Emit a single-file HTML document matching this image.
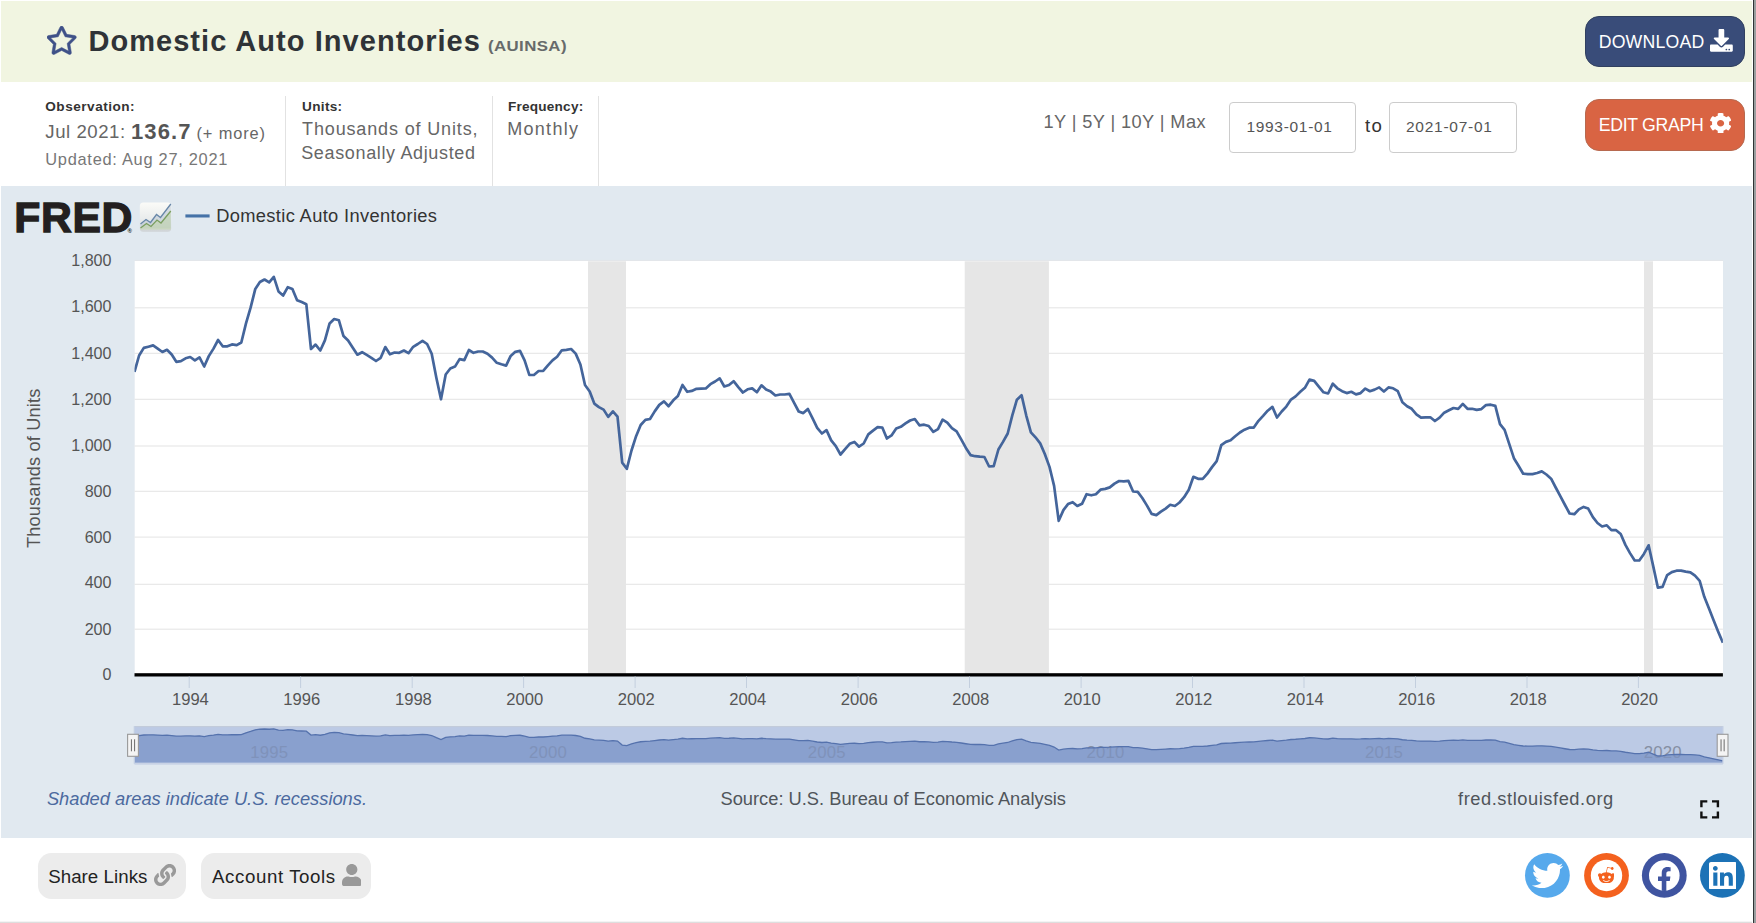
<!DOCTYPE html>
<html lang="en">
<head>
<meta charset="utf-8">
<title>Domestic Auto Inventories (AUINSA) | FRED | St. Louis Fed</title>
<style>
*{box-sizing:border-box;margin:0;padding:0}
html,body{width:1756px;height:923px;overflow:hidden;background:#fff}
body{position:relative;font-family:"Liberation Sans",sans-serif;color:#333}
.t{position:absolute;white-space:nowrap;line-height:1;font-weight:400}
.ic{position:absolute;display:block}
#hdr{position:absolute;left:1px;top:1px;width:1751px;height:81px;background:#f1f5e1}
#chartbg{position:absolute;left:1px;top:186px;width:1751px;height:652px;background:#e1e9f0}
#rborder{position:absolute;left:1753px;top:0;width:3px;height:923px;background:#9b9fa0;border-left:1px solid #2f3435}
#bborder{position:absolute;left:0;top:921px;width:1752px;height:2px;background:linear-gradient(#f4f4f4 0,#f4f4f4 50%,#dedede 50%,#dedede 100%)}
.vdiv{position:absolute;top:96px;width:1px;height:90px;background:#e2e2e2}
.btn{position:absolute;border-radius:14px}
.inp{position:absolute;top:102px;height:51px;width:127px;border:1px solid #ccc;border-radius:4px;background:#fff}
.gbtn{position:absolute;top:853px;height:46px;border-radius:13.5px;background:#ececec}
#chart{position:absolute;left:0;top:0;width:1756px;height:923px}
</style>
</head>
<body>
<header id="series-title">
<div id="hdr"></div>
<svg class="ic" style="left:47.40px;top:26.00px;width:29.30px;height:28.50px" viewBox="20.5 -0.0 535.0 512.1" preserveAspectRatio="none"><path fill="#3f5188" stroke="#3f5188" stroke-width="9" d="M528.1 171.5L382 150.2 316.700 17.800c-11.700-23.600-45.600-23.900-57.400 0L194 150.200 47.900 171.500c-26.200 3.800-36.700 36.100-17.700 54.600l105.700 103-25 145.500c-4.500 26.300 23.200 46 46.400 33.700L288 439.600l130.700 68.700c23.200 12.200 50.900-7.400 46.400-33.700l-25-145.500 105.700-103c19-18.500 8.500-50.800-17.700-54.600zM388.600 312.300l23.700 138.400L288 385.400l-124.300 65.300 23.700-138.400-100.600-98 139-20.200 62.200-126 62.200 126 139 20.200-100.600 98z"/></svg>
<h1 class="t" style="left:88.40px;top:27.20px;font-size:29.0px;letter-spacing:1.05px;font-weight:700;color:#2f3337;">Domestic Auto Inventories</h1>
<span class="t" style="left:487.80px;top:39.39px;font-size:14.9px;letter-spacing:0.35px;font-weight:700;color:#676a6a;transform-origin:0 50%;transform:scaleX(1.13);">(AUINSA)</span>
<div class="download-button">
<div class="btn" style="left:1585px;top:16px;width:160px;height:51px;background:#394c79;border:1px solid #31405f"></div>
<span class="t" style="left:1598.70px;top:34.32px;font-size:17.7px;letter-spacing:0.2px;color:#fff;">DOWNLOAD</span>
<svg class="ic" style="left:1709.80px;top:29.30px;width:22.80px;height:22.70px" viewBox="0.0 0.0 512.0 512.0" preserveAspectRatio="none"><path fill="#fff"  d="M216 0h80c13.3 0 24 10.7 24 24v168h87.7c17.8 0 26.7 21.5 14.1 34.1L269.7 378.3c-7.5 7.5-19.8 7.5-27.3 0L90.1 226.1c-12.6-12.6-3.7-34.1 14.1-34.1H192V24c0-13.3 10.7-24 24-24zm296 376v112c0 13.3-10.7 24-24 24H24c-13.3 0-24-10.7-24-24V376c0-13.3 10.7-24 24-24h146.7l49 49c20.1 20.1 52.5 20.1 72.6 0l49-49H488c13.3 0 24 10.7 24 24zm-124 88c0-11-9-20-20-20s-20 9-20 20 9 20 20 20 20-9 20-20zm64 0c0-11-9-20-20-20s-20 9-20 20 9 20 20 20 20-9 20-20z"/></svg>
</div>
</header>
<section id="series-meta">
<div class="meta-col">
<p class="t" style="left:45.30px;top:100.19px;font-size:13.6px;letter-spacing:0.5px;font-weight:700;">Observation:</p>
<span class="t" style="left:45.30px;top:123.46px;font-size:18.6px;letter-spacing:0.55px;color:#666;">Jul 2021:</span>
<span class="t" style="left:130.90px;top:120.58px;font-size:22.0px;letter-spacing:1.15px;font-weight:700;color:#555;">136.7</span>
<span class="t" style="left:196.40px;top:125.32px;font-size:16.4px;letter-spacing:0.9px;color:#666;">(+ more)</span>
<p class="t" style="left:45.30px;top:150.92px;font-size:16.4px;letter-spacing:0.72px;color:#777;">Updated: Aug 27, 2021</p>
</div>
<div class="meta-col"><div class="vdiv" style="left:285px"></div>
<p class="t" style="left:302.10px;top:100.19px;font-size:13.6px;letter-spacing:0.3px;font-weight:700;">Units:</p>
<span class="t" style="left:302.10px;top:119.56px;font-size:18.0px;letter-spacing:0.85px;color:#666;">Thousands of Units,</span>
<span class="t" style="left:301.20px;top:144.26px;font-size:18.0px;letter-spacing:0.65px;color:#666;">Seasonally Adjusted</span>
</div>
<div class="meta-col"><div class="vdiv" style="left:492px"></div>
<p class="t" style="left:508.10px;top:100.19px;font-size:13.6px;letter-spacing:0.2px;font-weight:700;">Frequency:</p>
<span class="t" style="left:507.20px;top:119.56px;font-size:18.0px;letter-spacing:1.3px;color:#666;">Monthly</span>
<div class="vdiv" style="left:598px"></div></div>
<div class="range-controls">
<span class="t" style="left:1043.60px;top:112.99px;font-size:18.2px;letter-spacing:0.4px;color:#666;">1Y | 5Y | 10Y | Max</span>
<div class="inp" style="left:1229px"></div>
<span class="t" style="left:1246.40px;top:119.18px;font-size:15.5px;letter-spacing:0.7px;color:#555;">1993-01-01</span>
<span class="t" style="left:1365.10px;top:116.96px;font-size:18.6px;letter-spacing:1.2px;">to</span>
<div class="inp" style="left:1389px;width:128px"></div>
<span class="t" style="left:1406.00px;top:119.18px;font-size:15.5px;letter-spacing:0.74px;color:#555;">2021-07-01</span>
</div>
<div class="edit-button">
<div class="btn" style="left:1585px;top:99px;width:160px;height:52px;background:#d96443;border:1px solid #b7694f"></div>
<span class="t" style="left:1598.70px;top:116.62px;font-size:17.7px;letter-spacing:-0.3px;color:#fff;">EDIT GRAPH</span>
<svg class="ic" style="left:1710.30px;top:112.70px;width:21.20px;height:20.60px" viewBox="18.6 8.1 474.8 496.0" preserveAspectRatio="none"><path fill="#fff"  d="M487.4 315.7l-42.600-24.600c4.300-23.200 4.300-47 0-70.200l42.600-24.600c4.900-2.800 7.100-8.600 5.500-14-11.100-35.600-30-67.800-54.700-94.600-3.800-4.100-10-5.100-14.800-2.300L380.800 110c-17.900-15.400-38.500-27.300-60.800-35.100V25.800c0-5.600-3.900-10.500-9.400-11.700-36.700-8.200-74.300-7.800-109.200 0-5.500 1.200-9.400 6.100-9.400 11.700V75c-22.200 7.900-42.800 19.800-60.800 35.100L88.700 85.500c-4.900-2.800-11-1.900-14.800 2.300-24.700 26.700-43.600 58.900-54.700 94.600-1.700 5.400.6 11.200 5.500 14L67.300 221c-4.300 23.200-4.300 47 0 70.200l-42.600 24.600c-4.900 2.800-7.100 8.600-5.500 14 11.100 35.600 30 67.800 54.700 94.600 3.800 4.100 10 5.100 14.800 2.300l42.600-24.600c17.900 15.400 38.500 27.300 60.800 35.100v49.200c0 5.600 3.900 10.500 9.400 11.700 36.700 8.200 74.300 7.800 109.200 0 5.500-1.200 9.400-6.100 9.400-11.700v-49.200c22.200-7.900 42.800-19.800 60.800-35.100l42.600 24.600c4.900 2.800 11 1.900 14.800-2.300 24.700-26.700 43.600-58.900 54.700-94.600 1.500-5.500-.7-11.300-5.600-14.100zM256 336c-44.100 0-80-35.900-80-80s35.900-80 80-80 80 35.900 80 80-35.900 80-80 80z"/></svg>
</div>
</section>
<section id="graph">
<div id="chartbg"></div>
<svg id="chart" viewBox="0 0 1756 923"><rect x="134.7" y="259.9" width="1588.4" height="1.2" fill="#e3e6ea"/>
<rect x="134.7" y="261.0" width="1588.3" height="414.0" fill="#fff"/>
<rect x="134.5" y="307.25" width="1588.4" height="1.1" fill="#e6e6e6"/>
<rect x="134.5" y="352.75" width="1588.4" height="1.1" fill="#e6e6e6"/>
<rect x="134.5" y="398.75" width="1588.4" height="1.1" fill="#e6e6e6"/>
<rect x="134.5" y="445.45" width="1588.4" height="1.1" fill="#e6e6e6"/>
<rect x="134.5" y="490.75" width="1588.4" height="1.1" fill="#e6e6e6"/>
<rect x="134.5" y="536.55" width="1588.4" height="1.1" fill="#e6e6e6"/>
<rect x="134.5" y="583.75" width="1588.4" height="1.1" fill="#e6e6e6"/>
<rect x="134.5" y="628.65" width="1588.4" height="1.1" fill="#e6e6e6"/>
<rect x="588.0" y="261.3" width="38.0" height="413.7" fill="#e6e6e6"/>
<rect x="964.7" y="261.3" width="84.2" height="413.7" fill="#e6e6e6"/>
<rect x="1644.0" y="261.3" width="9.0" height="413.7" fill="#e6e6e6"/>
<clipPath id="cp"><rect x="134.5" y="261.3" width="1588.4" height="413.7"/></clipPath>
<polyline clip-path="url(#cp)" points="134.5,371.8 139.1,355.5 143.8,347.9 148.4,346.7 153.1,345.4 157.7,348.7 162.4,352.0 167.0,349.8 171.7,354.5 176.3,361.8 180.9,361.1 185.6,358.3 190.2,357.0 194.9,360.3 199.5,357.4 204.2,366.5 208.8,356.1 213.5,348.6 218.1,340.0 222.7,346.3 227.4,346.3 232.0,344.4 236.7,345.1 241.3,342.5 246.0,323.4 250.6,307.7 255.3,288.9 259.9,282.0 264.5,279.5 269.2,282.3 273.8,276.9 278.5,291.4 283.1,295.5 287.8,287.2 292.4,288.9 297.1,300.2 301.7,302.1 306.3,304.2 311.0,349.0 315.6,344.6 320.3,350.5 324.9,340.4 329.6,323.4 334.2,319.0 338.9,320.3 343.5,336.1 348.1,340.5 352.8,347.8 357.4,354.7 362.1,352.2 366.7,354.9 371.4,357.8 376.0,361.0 380.7,357.8 385.3,347.1 389.9,354.3 394.6,352.5 399.2,352.8 403.9,350.5 408.5,353.2 413.2,346.8 417.8,344.0 422.5,340.8 427.1,344.0 431.7,353.8 436.4,377.9 441.0,399.3 445.7,374.5 450.3,368.5 455.0,366.6 459.6,359.1 464.3,360.1 468.9,350.0 473.5,352.8 478.2,351.5 482.8,351.5 487.5,353.8 492.1,357.6 496.8,362.8 501.4,364.3 506.1,365.6 510.7,355.9 515.3,351.8 520.0,350.9 524.6,360.3 529.3,374.8 533.9,375.0 538.6,371.0 543.2,370.8 547.9,365.4 552.5,360.4 557.1,356.8 561.8,350.3 566.4,349.8 571.1,349.0 575.7,353.6 580.4,364.5 585.0,385.0 589.7,391.5 594.3,403.6 598.9,407.1 603.6,409.6 608.2,416.9 612.9,411.4 617.5,416.6 622.2,462.6 626.8,468.8 631.5,450.5 636.1,436.2 640.7,425.0 645.4,419.9 650.0,419.0 654.7,411.4 659.3,404.9 664.0,401.4 668.6,406.2 673.3,400.3 677.9,396.1 682.5,385.0 687.2,391.8 691.8,390.9 696.5,388.8 701.1,388.6 705.8,388.4 710.4,384.2 715.1,381.5 719.7,378.3 724.3,386.5 729.0,385.0 733.6,381.2 738.3,387.1 742.9,392.5 747.6,389.3 752.2,388.4 756.9,392.2 761.5,385.3 766.1,389.6 770.8,391.6 775.4,395.5 780.1,394.5 784.7,394.5 789.4,393.9 794.0,402.7 798.7,411.5 803.3,413.1 807.9,409.0 812.6,418.4 817.2,427.8 821.9,433.5 826.5,430.1 831.2,440.4 835.8,446.1 840.5,454.5 845.1,449.2 849.7,443.8 854.4,441.9 859.0,446.7 863.7,443.5 868.3,434.4 873.0,430.6 877.6,427.2 882.3,427.5 886.9,438.5 891.5,435.4 896.2,428.5 900.8,426.8 905.5,423.4 910.1,420.5 914.8,419.0 919.4,425.3 924.1,424.7 928.7,426.0 933.3,431.9 938.0,429.1 942.6,419.7 947.3,422.6 951.9,428.1 956.6,431.4 961.2,439.4 965.9,447.9 970.5,455.1 975.1,456.2 979.8,456.7 984.4,457.0 989.1,466.5 993.7,466.1 998.4,449.5 1003.0,441.9 1007.7,433.5 1012.3,415.3 1016.9,399.7 1021.6,395.3 1026.2,415.3 1030.9,432.3 1035.5,437.3 1040.2,443.4 1044.8,454.0 1049.5,466.9 1054.1,485.9 1058.7,520.8 1063.4,510.1 1068.0,504.1 1072.7,502.2 1077.3,506.0 1082.0,503.8 1086.6,494.2 1091.3,495.3 1095.9,494.2 1100.5,489.7 1105.2,488.9 1109.8,487.4 1114.5,483.6 1119.1,481.0 1123.8,481.3 1128.4,480.9 1133.1,491.5 1137.7,491.9 1142.3,498.0 1147.0,505.6 1151.6,513.9 1156.3,515.1 1160.9,511.6 1165.6,508.6 1170.2,504.8 1174.9,506.0 1179.5,502.5 1184.1,497.2 1188.8,489.7 1193.4,476.8 1198.1,478.8 1202.7,478.9 1207.4,473.6 1212.0,467.1 1216.7,461.1 1221.3,445.1 1225.9,441.9 1230.6,440.3 1235.2,436.2 1239.9,432.5 1244.5,429.7 1249.2,427.7 1253.8,427.6 1258.5,420.8 1263.1,415.9 1267.7,410.7 1272.4,406.9 1277.0,417.5 1281.7,411.5 1286.3,406.6 1291.0,399.6 1295.6,396.4 1300.3,391.8 1304.9,387.8 1309.5,379.6 1314.2,380.9 1318.8,386.6 1323.5,392.3 1328.1,393.5 1332.8,383.7 1337.4,388.3 1342.1,391.2 1346.7,393.1 1351.3,391.8 1356.0,394.4 1360.6,393.1 1365.3,388.6 1369.9,391.2 1374.6,389.6 1379.2,387.4 1383.9,391.5 1388.5,387.4 1393.1,388.3 1397.8,391.2 1402.4,402.3 1407.1,406.2 1411.7,408.8 1416.4,414.3 1421.0,417.6 1425.7,417.3 1430.3,417.3 1434.9,421.0 1439.6,417.7 1444.2,412.7 1448.9,410.3 1453.5,408.0 1458.2,408.8 1462.8,403.9 1467.5,408.8 1472.1,408.8 1476.7,409.9 1481.4,409.1 1486.0,405.1 1490.7,404.7 1495.3,405.9 1500.0,424.2 1504.6,429.9 1509.3,444.1 1513.9,458.2 1518.5,465.7 1523.2,473.7 1527.8,474.1 1532.5,474.1 1537.1,473.0 1541.8,471.4 1546.4,474.5 1551.1,478.7 1555.7,487.5 1560.3,496.1 1565.0,505.0 1569.6,513.5 1574.3,514.2 1578.9,509.4 1583.6,506.9 1588.2,508.6 1592.9,517.2 1597.5,523.0 1602.1,526.5 1606.8,525.3 1611.4,530.2 1616.1,530.2 1620.7,534.0 1625.4,544.9 1630.0,553.1 1634.7,560.5 1639.3,560.5 1643.9,553.9 1648.6,545.3 1653.2,566.1 1657.9,587.7 1662.5,586.9 1667.2,575.1 1671.8,572.1 1676.5,570.7 1681.1,570.6 1685.7,571.6 1690.4,572.3 1695.0,575.6 1699.7,580.8 1704.3,596.8 1709.0,608.5 1713.6,620.2 1718.3,631.9 1722.9,642.7" fill="none" stroke="#44659b" stroke-width="2.7" stroke-linejoin="round" stroke-linecap="butt"/>
<rect x="134.5" y="673.2" width="1588.4" height="3.3" fill="#000"/>
<rect x="188.7" y="676.5" width="1" height="11.5" fill="#c3cfde"/>
<rect x="300.1" y="676.5" width="1" height="11.5" fill="#c3cfde"/>
<rect x="411.7" y="676.5" width="1" height="11.5" fill="#c3cfde"/>
<rect x="523.1" y="676.5" width="1" height="11.5" fill="#c3cfde"/>
<rect x="634.6" y="676.5" width="1" height="11.5" fill="#c3cfde"/>
<rect x="746.0" y="676.5" width="1" height="11.5" fill="#c3cfde"/>
<rect x="857.6" y="676.5" width="1" height="11.5" fill="#c3cfde"/>
<rect x="969.0" y="676.5" width="1" height="11.5" fill="#c3cfde"/>
<rect x="1080.6" y="676.5" width="1" height="11.5" fill="#c3cfde"/>
<rect x="1192.0" y="676.5" width="1" height="11.5" fill="#c3cfde"/>
<rect x="1303.5" y="676.5" width="1" height="11.5" fill="#c3cfde"/>
<rect x="1415.0" y="676.5" width="1" height="11.5" fill="#c3cfde"/>
<rect x="1526.5" y="676.5" width="1" height="11.5" fill="#c3cfde"/>
<rect x="1637.9" y="676.5" width="1" height="11.5" fill="#c3cfde"/>
<rect x="185.4" y="214.4" width="24.2" height="3.1" fill="#4572a7"/>
<rect x="134.5" y="726.1" width="1588.4" height="36.69999999999993" fill="#bccae5"/>
<text x="250.2" y="757.7" font-size="16.8" letter-spacing="0.2" fill="#858fa3" font-family="Liberation Sans, sans-serif">1995</text>
<text x="528.9" y="757.7" font-size="16.8" letter-spacing="0.2" fill="#858fa3" font-family="Liberation Sans, sans-serif">2000</text>
<text x="807.7" y="757.7" font-size="16.8" letter-spacing="0.2" fill="#858fa3" font-family="Liberation Sans, sans-serif">2005</text>
<text x="1086.4" y="757.7" font-size="16.8" letter-spacing="0.2" fill="#858fa3" font-family="Liberation Sans, sans-serif">2010</text>
<text x="1365.0" y="757.7" font-size="16.8" letter-spacing="0.2" fill="#858fa3" font-family="Liberation Sans, sans-serif">2015</text>
<text x="1643.7" y="757.7" font-size="16.8" letter-spacing="0.2" fill="#858fa3" font-family="Liberation Sans, sans-serif">2020</text>
<polygon points="134.5,762.8 134.5,737.09 139.1,735.67 143.8,735.0 148.4,734.9 153.1,734.78 157.7,735.07 162.4,735.36 167.0,735.17 171.7,735.58 176.3,736.22 180.9,736.16 185.6,735.91 190.2,735.8 194.9,736.09 199.5,735.83 204.2,736.63 208.8,735.72 213.5,735.06 218.1,734.31 222.7,734.86 227.4,734.86 232.0,734.69 236.7,734.76 241.3,734.53 246.0,732.86 250.6,731.48 255.3,729.84 259.9,729.23 264.5,729.02 269.2,729.26 273.8,728.79 278.5,730.06 283.1,730.42 287.8,729.69 292.4,729.84 297.1,730.83 301.7,730.99 306.3,731.18 311.0,735.1 315.6,734.71 320.3,735.23 324.9,734.34 329.6,732.86 334.2,732.47 338.9,732.59 343.5,733.97 348.1,734.35 352.8,734.99 357.4,735.6 362.1,735.38 366.7,735.61 371.4,735.87 376.0,736.15 380.7,735.87 385.3,734.93 389.9,735.56 394.6,735.4 399.2,735.43 403.9,735.23 408.5,735.46 413.2,734.9 417.8,734.66 422.5,734.38 427.1,734.66 431.7,735.52 436.4,737.63 441.0,739.5 445.7,737.33 450.3,736.8 455.0,736.64 459.6,735.98 464.3,736.07 468.9,735.18 473.5,735.43 478.2,735.32 482.8,735.32 487.5,735.52 492.1,735.85 496.8,736.3 501.4,736.44 506.1,736.55 510.7,735.7 515.3,735.34 520.0,735.26 524.6,736.09 529.3,737.35 533.9,737.37 538.6,737.02 543.2,737.0 547.9,736.53 552.5,736.09 557.1,735.78 561.8,735.21 566.4,735.17 571.1,735.1 575.7,735.5 580.4,736.45 585.0,738.25 589.7,738.82 594.3,739.88 598.9,740.18 603.6,740.4 608.2,741.04 612.9,740.56 617.5,741.01 622.2,745.04 626.8,745.58 631.5,743.98 636.1,742.73 640.7,741.75 645.4,741.3 650.0,741.22 654.7,740.56 659.3,739.99 664.0,739.68 668.6,740.1 673.3,739.59 677.9,739.22 682.5,738.25 687.2,738.84 691.8,738.76 696.5,738.58 701.1,738.56 705.8,738.54 710.4,738.18 715.1,737.94 719.7,737.66 724.3,738.38 729.0,738.25 733.6,737.91 738.3,738.43 742.9,738.9 747.6,738.62 752.2,738.54 756.9,738.88 761.5,738.27 766.1,738.65 770.8,738.82 775.4,739.17 780.1,739.08 784.7,739.08 789.4,739.03 794.0,739.8 798.7,740.57 803.3,740.71 807.9,740.35 812.6,741.17 817.2,741.99 821.9,742.49 826.5,742.19 831.2,743.09 835.8,743.59 840.5,744.33 845.1,743.86 849.7,743.39 854.4,743.23 859.0,743.65 863.7,743.37 868.3,742.57 873.0,742.24 877.6,741.94 882.3,741.97 886.9,742.93 891.5,742.66 896.2,742.05 900.8,741.9 905.5,741.61 910.1,741.35 914.8,741.22 919.4,741.77 924.1,741.72 928.7,741.83 933.3,742.35 938.0,742.11 942.6,741.28 947.3,741.54 951.9,742.02 956.6,742.31 961.2,743.01 965.9,743.75 970.5,744.38 975.1,744.48 979.8,744.52 984.4,744.55 989.1,745.38 993.7,745.34 998.4,743.89 1003.0,743.23 1007.7,742.49 1012.3,740.9 1016.9,739.53 1021.6,739.15 1026.2,740.9 1030.9,742.39 1035.5,742.82 1040.2,743.36 1044.8,744.28 1049.5,745.41 1054.1,747.08 1058.7,750.13 1063.4,749.19 1068.0,748.67 1072.7,748.5 1077.3,748.83 1082.0,748.64 1086.6,747.8 1091.3,747.9 1095.9,747.8 1100.5,747.41 1105.2,747.34 1109.8,747.21 1114.5,746.88 1119.1,746.65 1123.8,746.67 1128.4,746.64 1133.1,747.57 1137.7,747.6 1142.3,748.13 1147.0,748.8 1151.6,749.53 1156.3,749.63 1160.9,749.32 1165.6,749.06 1170.2,748.73 1174.9,748.83 1179.5,748.53 1184.1,748.06 1188.8,747.41 1193.4,746.28 1198.1,746.45 1202.7,746.46 1207.4,746.0 1212.0,745.43 1216.7,744.91 1221.3,743.51 1225.9,743.23 1230.6,743.09 1235.2,742.73 1239.9,742.4 1244.5,742.16 1249.2,741.98 1253.8,741.97 1258.5,741.38 1263.1,740.95 1267.7,740.5 1272.4,740.16 1277.0,741.09 1281.7,740.57 1286.3,740.14 1291.0,739.52 1295.6,739.24 1300.3,738.84 1304.9,738.49 1309.5,737.77 1314.2,737.89 1318.8,738.39 1323.5,738.89 1328.1,738.99 1332.8,738.13 1337.4,738.54 1342.1,738.79 1346.7,738.96 1351.3,738.84 1356.0,739.07 1360.6,738.96 1365.3,738.56 1369.9,738.79 1374.6,738.65 1379.2,738.46 1383.9,738.82 1388.5,738.46 1393.1,738.54 1397.8,738.79 1402.4,739.76 1407.1,740.1 1411.7,740.33 1416.4,740.81 1421.0,741.1 1425.7,741.07 1430.3,741.07 1434.9,741.4 1439.6,741.11 1444.2,740.67 1448.9,740.46 1453.5,740.26 1458.2,740.33 1462.8,739.9 1467.5,740.33 1472.1,740.33 1476.7,740.43 1481.4,740.36 1486.0,740.01 1490.7,739.97 1495.3,740.08 1500.0,741.68 1504.6,742.18 1509.3,743.42 1513.9,744.65 1518.5,745.31 1523.2,746.01 1527.8,746.04 1532.5,746.04 1537.1,745.95 1541.8,745.81 1546.4,746.08 1551.1,746.45 1555.7,747.22 1560.3,747.97 1565.0,748.75 1569.6,749.49 1574.3,749.55 1578.9,749.13 1583.6,748.91 1588.2,749.06 1592.9,749.81 1597.5,750.32 1602.1,750.63 1606.8,750.52 1611.4,750.95 1616.1,750.95 1620.7,751.28 1625.4,752.24 1630.0,752.96 1634.7,753.6 1639.3,753.6 1643.9,753.03 1648.6,752.27 1653.2,754.09 1657.9,755.98 1662.5,755.91 1667.2,754.88 1671.8,754.62 1676.5,754.5 1681.1,754.49 1685.7,754.57 1690.4,754.64 1695.0,754.92 1699.7,755.38 1704.3,756.78 1709.0,757.8 1713.6,758.83 1718.3,759.85 1722.9,760.8 1722.9,762.8" fill="#89a0ce"/>
<clipPath id="na"><polygon points="134.5,762.8 134.5,737.09 139.1,735.67 143.8,735.0 148.4,734.9 153.1,734.78 157.7,735.07 162.4,735.36 167.0,735.17 171.7,735.58 176.3,736.22 180.9,736.16 185.6,735.91 190.2,735.8 194.9,736.09 199.5,735.83 204.2,736.63 208.8,735.72 213.5,735.06 218.1,734.31 222.7,734.86 227.4,734.86 232.0,734.69 236.7,734.76 241.3,734.53 246.0,732.86 250.6,731.48 255.3,729.84 259.9,729.23 264.5,729.02 269.2,729.26 273.8,728.79 278.5,730.06 283.1,730.42 287.8,729.69 292.4,729.84 297.1,730.83 301.7,730.99 306.3,731.18 311.0,735.1 315.6,734.71 320.3,735.23 324.9,734.34 329.6,732.86 334.2,732.47 338.9,732.59 343.5,733.97 348.1,734.35 352.8,734.99 357.4,735.6 362.1,735.38 366.7,735.61 371.4,735.87 376.0,736.15 380.7,735.87 385.3,734.93 389.9,735.56 394.6,735.4 399.2,735.43 403.9,735.23 408.5,735.46 413.2,734.9 417.8,734.66 422.5,734.38 427.1,734.66 431.7,735.52 436.4,737.63 441.0,739.5 445.7,737.33 450.3,736.8 455.0,736.64 459.6,735.98 464.3,736.07 468.9,735.18 473.5,735.43 478.2,735.32 482.8,735.32 487.5,735.52 492.1,735.85 496.8,736.3 501.4,736.44 506.1,736.55 510.7,735.7 515.3,735.34 520.0,735.26 524.6,736.09 529.3,737.35 533.9,737.37 538.6,737.02 543.2,737.0 547.9,736.53 552.5,736.09 557.1,735.78 561.8,735.21 566.4,735.17 571.1,735.1 575.7,735.5 580.4,736.45 585.0,738.25 589.7,738.82 594.3,739.88 598.9,740.18 603.6,740.4 608.2,741.04 612.9,740.56 617.5,741.01 622.2,745.04 626.8,745.58 631.5,743.98 636.1,742.73 640.7,741.75 645.4,741.3 650.0,741.22 654.7,740.56 659.3,739.99 664.0,739.68 668.6,740.1 673.3,739.59 677.9,739.22 682.5,738.25 687.2,738.84 691.8,738.76 696.5,738.58 701.1,738.56 705.8,738.54 710.4,738.18 715.1,737.94 719.7,737.66 724.3,738.38 729.0,738.25 733.6,737.91 738.3,738.43 742.9,738.9 747.6,738.62 752.2,738.54 756.9,738.88 761.5,738.27 766.1,738.65 770.8,738.82 775.4,739.17 780.1,739.08 784.7,739.08 789.4,739.03 794.0,739.8 798.7,740.57 803.3,740.71 807.9,740.35 812.6,741.17 817.2,741.99 821.9,742.49 826.5,742.19 831.2,743.09 835.8,743.59 840.5,744.33 845.1,743.86 849.7,743.39 854.4,743.23 859.0,743.65 863.7,743.37 868.3,742.57 873.0,742.24 877.6,741.94 882.3,741.97 886.9,742.93 891.5,742.66 896.2,742.05 900.8,741.9 905.5,741.61 910.1,741.35 914.8,741.22 919.4,741.77 924.1,741.72 928.7,741.83 933.3,742.35 938.0,742.11 942.6,741.28 947.3,741.54 951.9,742.02 956.6,742.31 961.2,743.01 965.9,743.75 970.5,744.38 975.1,744.48 979.8,744.52 984.4,744.55 989.1,745.38 993.7,745.34 998.4,743.89 1003.0,743.23 1007.7,742.49 1012.3,740.9 1016.9,739.53 1021.6,739.15 1026.2,740.9 1030.9,742.39 1035.5,742.82 1040.2,743.36 1044.8,744.28 1049.5,745.41 1054.1,747.08 1058.7,750.13 1063.4,749.19 1068.0,748.67 1072.7,748.5 1077.3,748.83 1082.0,748.64 1086.6,747.8 1091.3,747.9 1095.9,747.8 1100.5,747.41 1105.2,747.34 1109.8,747.21 1114.5,746.88 1119.1,746.65 1123.8,746.67 1128.4,746.64 1133.1,747.57 1137.7,747.6 1142.3,748.13 1147.0,748.8 1151.6,749.53 1156.3,749.63 1160.9,749.32 1165.6,749.06 1170.2,748.73 1174.9,748.83 1179.5,748.53 1184.1,748.06 1188.8,747.41 1193.4,746.28 1198.1,746.45 1202.7,746.46 1207.4,746.0 1212.0,745.43 1216.7,744.91 1221.3,743.51 1225.9,743.23 1230.6,743.09 1235.2,742.73 1239.9,742.4 1244.5,742.16 1249.2,741.98 1253.8,741.97 1258.5,741.38 1263.1,740.95 1267.7,740.5 1272.4,740.16 1277.0,741.09 1281.7,740.57 1286.3,740.14 1291.0,739.52 1295.6,739.24 1300.3,738.84 1304.9,738.49 1309.5,737.77 1314.2,737.89 1318.8,738.39 1323.5,738.89 1328.1,738.99 1332.8,738.13 1337.4,738.54 1342.1,738.79 1346.7,738.96 1351.3,738.84 1356.0,739.07 1360.6,738.96 1365.3,738.56 1369.9,738.79 1374.6,738.65 1379.2,738.46 1383.9,738.82 1388.5,738.46 1393.1,738.54 1397.8,738.79 1402.4,739.76 1407.1,740.1 1411.7,740.33 1416.4,740.81 1421.0,741.1 1425.7,741.07 1430.3,741.07 1434.9,741.4 1439.6,741.11 1444.2,740.67 1448.9,740.46 1453.5,740.26 1458.2,740.33 1462.8,739.9 1467.5,740.33 1472.1,740.33 1476.7,740.43 1481.4,740.36 1486.0,740.01 1490.7,739.97 1495.3,740.08 1500.0,741.68 1504.6,742.18 1509.3,743.42 1513.9,744.65 1518.5,745.31 1523.2,746.01 1527.8,746.04 1532.5,746.04 1537.1,745.95 1541.8,745.81 1546.4,746.08 1551.1,746.45 1555.7,747.22 1560.3,747.97 1565.0,748.75 1569.6,749.49 1574.3,749.55 1578.9,749.13 1583.6,748.91 1588.2,749.06 1592.9,749.81 1597.5,750.32 1602.1,750.63 1606.8,750.52 1611.4,750.95 1616.1,750.95 1620.7,751.28 1625.4,752.24 1630.0,752.96 1634.7,753.6 1639.3,753.6 1643.9,753.03 1648.6,752.27 1653.2,754.09 1657.9,755.98 1662.5,755.91 1667.2,754.88 1671.8,754.62 1676.5,754.5 1681.1,754.49 1685.7,754.57 1690.4,754.64 1695.0,754.92 1699.7,755.38 1704.3,756.78 1709.0,757.8 1713.6,758.83 1718.3,759.85 1722.9,760.8 1722.9,762.8"/></clipPath>
<text clip-path="url(#na)" x="250.2" y="757.7" font-size="16.8" letter-spacing="0.2" fill="#7f92ba" font-family="Liberation Sans, sans-serif">1995</text>
<text clip-path="url(#na)" x="528.9" y="757.7" font-size="16.8" letter-spacing="0.2" fill="#7f92ba" font-family="Liberation Sans, sans-serif">2000</text>
<text clip-path="url(#na)" x="807.7" y="757.7" font-size="16.8" letter-spacing="0.2" fill="#7f92ba" font-family="Liberation Sans, sans-serif">2005</text>
<text clip-path="url(#na)" x="1086.4" y="757.7" font-size="16.8" letter-spacing="0.2" fill="#7f92ba" font-family="Liberation Sans, sans-serif">2010</text>
<text clip-path="url(#na)" x="1365.0" y="757.7" font-size="16.8" letter-spacing="0.2" fill="#7f92ba" font-family="Liberation Sans, sans-serif">2015</text>
<text clip-path="url(#na)" x="1643.7" y="757.7" font-size="16.8" letter-spacing="0.2" fill="#7f92ba" font-family="Liberation Sans, sans-serif">2020</text>
<polyline points="134.5,737.09 139.1,735.67 143.8,735.0 148.4,734.9 153.1,734.78 157.7,735.07 162.4,735.36 167.0,735.17 171.7,735.58 176.3,736.22 180.9,736.16 185.6,735.91 190.2,735.8 194.9,736.09 199.5,735.83 204.2,736.63 208.8,735.72 213.5,735.06 218.1,734.31 222.7,734.86 227.4,734.86 232.0,734.69 236.7,734.76 241.3,734.53 246.0,732.86 250.6,731.48 255.3,729.84 259.9,729.23 264.5,729.02 269.2,729.26 273.8,728.79 278.5,730.06 283.1,730.42 287.8,729.69 292.4,729.84 297.1,730.83 301.7,730.99 306.3,731.18 311.0,735.1 315.6,734.71 320.3,735.23 324.9,734.34 329.6,732.86 334.2,732.47 338.9,732.59 343.5,733.97 348.1,734.35 352.8,734.99 357.4,735.6 362.1,735.38 366.7,735.61 371.4,735.87 376.0,736.15 380.7,735.87 385.3,734.93 389.9,735.56 394.6,735.4 399.2,735.43 403.9,735.23 408.5,735.46 413.2,734.9 417.8,734.66 422.5,734.38 427.1,734.66 431.7,735.52 436.4,737.63 441.0,739.5 445.7,737.33 450.3,736.8 455.0,736.64 459.6,735.98 464.3,736.07 468.9,735.18 473.5,735.43 478.2,735.32 482.8,735.32 487.5,735.52 492.1,735.85 496.8,736.3 501.4,736.44 506.1,736.55 510.7,735.7 515.3,735.34 520.0,735.26 524.6,736.09 529.3,737.35 533.9,737.37 538.6,737.02 543.2,737.0 547.9,736.53 552.5,736.09 557.1,735.78 561.8,735.21 566.4,735.17 571.1,735.1 575.7,735.5 580.4,736.45 585.0,738.25 589.7,738.82 594.3,739.88 598.9,740.18 603.6,740.4 608.2,741.04 612.9,740.56 617.5,741.01 622.2,745.04 626.8,745.58 631.5,743.98 636.1,742.73 640.7,741.75 645.4,741.3 650.0,741.22 654.7,740.56 659.3,739.99 664.0,739.68 668.6,740.1 673.3,739.59 677.9,739.22 682.5,738.25 687.2,738.84 691.8,738.76 696.5,738.58 701.1,738.56 705.8,738.54 710.4,738.18 715.1,737.94 719.7,737.66 724.3,738.38 729.0,738.25 733.6,737.91 738.3,738.43 742.9,738.9 747.6,738.62 752.2,738.54 756.9,738.88 761.5,738.27 766.1,738.65 770.8,738.82 775.4,739.17 780.1,739.08 784.7,739.08 789.4,739.03 794.0,739.8 798.7,740.57 803.3,740.71 807.9,740.35 812.6,741.17 817.2,741.99 821.9,742.49 826.5,742.19 831.2,743.09 835.8,743.59 840.5,744.33 845.1,743.86 849.7,743.39 854.4,743.23 859.0,743.65 863.7,743.37 868.3,742.57 873.0,742.24 877.6,741.94 882.3,741.97 886.9,742.93 891.5,742.66 896.2,742.05 900.8,741.9 905.5,741.61 910.1,741.35 914.8,741.22 919.4,741.77 924.1,741.72 928.7,741.83 933.3,742.35 938.0,742.11 942.6,741.28 947.3,741.54 951.9,742.02 956.6,742.31 961.2,743.01 965.9,743.75 970.5,744.38 975.1,744.48 979.8,744.52 984.4,744.55 989.1,745.38 993.7,745.34 998.4,743.89 1003.0,743.23 1007.7,742.49 1012.3,740.9 1016.9,739.53 1021.6,739.15 1026.2,740.9 1030.9,742.39 1035.5,742.82 1040.2,743.36 1044.8,744.28 1049.5,745.41 1054.1,747.08 1058.7,750.13 1063.4,749.19 1068.0,748.67 1072.7,748.5 1077.3,748.83 1082.0,748.64 1086.6,747.8 1091.3,747.9 1095.9,747.8 1100.5,747.41 1105.2,747.34 1109.8,747.21 1114.5,746.88 1119.1,746.65 1123.8,746.67 1128.4,746.64 1133.1,747.57 1137.7,747.6 1142.3,748.13 1147.0,748.8 1151.6,749.53 1156.3,749.63 1160.9,749.32 1165.6,749.06 1170.2,748.73 1174.9,748.83 1179.5,748.53 1184.1,748.06 1188.8,747.41 1193.4,746.28 1198.1,746.45 1202.7,746.46 1207.4,746.0 1212.0,745.43 1216.7,744.91 1221.3,743.51 1225.9,743.23 1230.6,743.09 1235.2,742.73 1239.9,742.4 1244.5,742.16 1249.2,741.98 1253.8,741.97 1258.5,741.38 1263.1,740.95 1267.7,740.5 1272.4,740.16 1277.0,741.09 1281.7,740.57 1286.3,740.14 1291.0,739.52 1295.6,739.24 1300.3,738.84 1304.9,738.49 1309.5,737.77 1314.2,737.89 1318.8,738.39 1323.5,738.89 1328.1,738.99 1332.8,738.13 1337.4,738.54 1342.1,738.79 1346.7,738.96 1351.3,738.84 1356.0,739.07 1360.6,738.96 1365.3,738.56 1369.9,738.79 1374.6,738.65 1379.2,738.46 1383.9,738.82 1388.5,738.46 1393.1,738.54 1397.8,738.79 1402.4,739.76 1407.1,740.1 1411.7,740.33 1416.4,740.81 1421.0,741.1 1425.7,741.07 1430.3,741.07 1434.9,741.4 1439.6,741.11 1444.2,740.67 1448.9,740.46 1453.5,740.26 1458.2,740.33 1462.8,739.9 1467.5,740.33 1472.1,740.33 1476.7,740.43 1481.4,740.36 1486.0,740.01 1490.7,739.97 1495.3,740.08 1500.0,741.68 1504.6,742.18 1509.3,743.42 1513.9,744.65 1518.5,745.31 1523.2,746.01 1527.8,746.04 1532.5,746.04 1537.1,745.95 1541.8,745.81 1546.4,746.08 1551.1,746.45 1555.7,747.22 1560.3,747.97 1565.0,748.75 1569.6,749.49 1574.3,749.55 1578.9,749.13 1583.6,748.91 1588.2,749.06 1592.9,749.81 1597.5,750.32 1602.1,750.63 1606.8,750.52 1611.4,750.95 1616.1,750.95 1620.7,751.28 1625.4,752.24 1630.0,752.96 1634.7,753.6 1639.3,753.6 1643.9,753.03 1648.6,752.27 1653.2,754.09 1657.9,755.98 1662.5,755.91 1667.2,754.88 1671.8,754.62 1676.5,754.5 1681.1,754.49 1685.7,754.57 1690.4,754.64 1695.0,754.92 1699.7,755.38 1704.3,756.78 1709.0,757.8 1713.6,758.83 1718.3,759.85 1722.9,760.8" fill="none" stroke="#5572ad" stroke-width="1.3"/>
<rect x="134.5" y="762.8" width="1588.4" height="1.9" fill="#c8d2e5"/>
<rect x="134.5" y="726.1" width="1588.4" height="1.1" fill="#c3cbd9"/>
<rect x="133.7" y="726.1" width="1.2" height="37.69999999999993" fill="#c3cfe3"/>
<rect x="1722.3000000000002" y="726.1" width="1.2" height="37.69999999999993" fill="#c3cfe3"/>
<rect x="127.6" y="734.3" width="10.8" height="22" fill="#f4f4f4" stroke="#999" stroke-width="1.1"/>
<rect x="130.9" y="739.3" width="1.1" height="12" fill="#777"/>
<rect x="134.0" y="739.3" width="1.1" height="12" fill="#777"/>
<rect x="1717.2" y="734.3" width="10.8" height="22" fill="#f4f4f4" stroke="#999" stroke-width="1.1"/>
<rect x="1720.5" y="739.3" width="1.1" height="12" fill="#777"/>
<rect x="1723.6" y="739.3" width="1.1" height="12" fill="#777"/>
<path d="M1701.4 807.3v-5.9h5.900M1712 801.4h5.900v5.900M1717.900 811.500v5.900h-5.900M1707.300 817.400h-5.900v-5.900" fill="none" stroke="#111" stroke-width="2.400"/>
<defs><linearGradient id="gi" x1="0" y1="0" x2="0" y2="1"><stop offset="0" stop-color="#fbfbf8"/><stop offset="0.55" stop-color="#e9ecec"/><stop offset="1" stop-color="#cfd3d6"/></linearGradient></defs>
<rect x="139.800" y="202.500" width="31.400" height="29.300" rx="3.500" fill="url(#gi)"/>
<polygon points="140.500,224 146,219.500 150.500,222.500 156.500,214.500 160.500,217.500 170.800,204 170.800,228 140.500,228" fill="#b9c6d3" fill-opacity="0.55"/>
<polygon points="140.500,228 146.500,223.500 151,226.500 157,220 161,223 170.800,211 170.800,229.500 140.500,229.500" fill="#c3d4b4" fill-opacity="0.7"/>
<polyline points="140.500,224 146,219.500 150.500,222.500 156.500,214.500 160.500,217.500 170.800,204" fill="none" stroke="#6887a8" stroke-width="1.300"/>
<polyline points="140.500,228 146.500,223.500 151,226.500 157,220 161,223 170.800,211" fill="none" stroke="#7b9f60" stroke-width="1.300"/>
<circle cx="1547.4" cy="875.4" r="22.4" fill="#56a9ec"/>
<circle cx="1606.5" cy="875.4" r="22.4" fill="#f4611e"/>
<circle cx="1664.3" cy="875.4" r="22.4" fill="#3f54a0"/>
<circle cx="1722.4" cy="875.4" r="22.4" fill="#1c72b6"/>
<circle cx="1606.5" cy="875.45" r="15.700" fill="#fff"/>
<circle cx="1664.300" cy="875.45" r="15.300" fill="#fff"/></svg>
<div class="t" style="left:14.30px;top:195.55px;font-size:42.7px;letter-spacing:0.65px;font-weight:700;color:#231f20;-webkit-text-stroke:1.3px #231f20;">FRED</div>
<span class="t" style="left:127.60px;top:228.42px;font-size:6px;font-weight:700;color:#231f20;">®</span>
<span class="t" style="left:216.20px;top:207.36px;font-size:18.3px;letter-spacing:0.35px;">Domestic Auto Inventories</span>
<div class="yaxis-labels">
<span class="t" style="right:1644.5px;top:251.87px;font-size:16.1px;color:#555">1,800</span>
<span class="t" style="right:1644.5px;top:298.07px;font-size:16.1px;color:#555">1,600</span>
<span class="t" style="right:1644.5px;top:345.07px;font-size:16.1px;color:#555">1,400</span>
<span class="t" style="right:1644.5px;top:390.57px;font-size:16.1px;color:#555">1,200</span>
<span class="t" style="right:1644.5px;top:436.87px;font-size:16.1px;color:#555">1,000</span>
<span class="t" style="right:1644.5px;top:482.97px;font-size:16.1px;color:#555">800</span>
<span class="t" style="right:1644.5px;top:528.67px;font-size:16.1px;color:#555">600</span>
<span class="t" style="right:1644.5px;top:573.97px;font-size:16.1px;color:#555">400</span>
<span class="t" style="right:1644.5px;top:620.87px;font-size:16.1px;color:#555">200</span>
<span class="t" style="right:1644.5px;top:666.07px;font-size:16.1px;color:#555">0</span>
</div>
<div class="xaxis-labels">
<span class="t" style="left:160.4px;width:60px;text-align:center;top:691.85px;font-size:16.6px;color:#555">1994</span>
<span class="t" style="left:271.8px;width:60px;text-align:center;top:691.85px;font-size:16.6px;color:#555">1996</span>
<span class="t" style="left:383.4px;width:60px;text-align:center;top:691.85px;font-size:16.6px;color:#555">1998</span>
<span class="t" style="left:494.8px;width:60px;text-align:center;top:691.85px;font-size:16.6px;color:#555">2000</span>
<span class="t" style="left:606.3px;width:60px;text-align:center;top:691.85px;font-size:16.6px;color:#555">2002</span>
<span class="t" style="left:717.7px;width:60px;text-align:center;top:691.85px;font-size:16.6px;color:#555">2004</span>
<span class="t" style="left:829.3px;width:60px;text-align:center;top:691.85px;font-size:16.6px;color:#555">2006</span>
<span class="t" style="left:940.7px;width:60px;text-align:center;top:691.85px;font-size:16.6px;color:#555">2008</span>
<span class="t" style="left:1052.3px;width:60px;text-align:center;top:691.85px;font-size:16.6px;color:#555">2010</span>
<span class="t" style="left:1163.7px;width:60px;text-align:center;top:691.85px;font-size:16.6px;color:#555">2012</span>
<span class="t" style="left:1275.2px;width:60px;text-align:center;top:691.85px;font-size:16.6px;color:#555">2014</span>
<span class="t" style="left:1386.7px;width:60px;text-align:center;top:691.85px;font-size:16.6px;color:#555">2016</span>
<span class="t" style="left:1498.2px;width:60px;text-align:center;top:691.85px;font-size:16.6px;color:#555">2018</span>
<span class="t" style="left:1609.6px;width:60px;text-align:center;top:691.85px;font-size:16.6px;color:#555">2020</span>
</div>
<div class="t" style="left:39.9px;top:548.1px;font-size:18.1px;letter-spacing:0.2px;color:#555;transform-origin:0 0;transform:rotate(-90deg) translateY(-15.32px)">Thousands of Units</div>
<span class="t" style="left:46.90px;top:790.21px;font-size:18.3px;color:#4c6a9f;font-style:italic;">Shaded areas indicate U.S. recessions.</span>
<span class="t" style="left:720.50px;top:790.21px;font-size:18.3px;color:#50555a;">Source: U.S. Bureau of Economic Analysis</span>
<span class="t" style="left:1458.00px;top:790.21px;font-size:18.3px;letter-spacing:0.55px;color:#50555a;">fred.stlouisfed.org</span>
</section>
<footer id="graph-tools">
<div class="share-links"><div class="gbtn" style="left:38px;width:148px"></div>
<span class="t" style="left:48.20px;top:867.97px;font-size:18.7px;letter-spacing:0.05px;color:#222;">Share Links</span>
<svg class="ic" style="left:153.90px;top:863.80px;width:22.10px;height:22.10px" viewBox="-0.0 -0.0 512.0 512.0" preserveAspectRatio="none"><path fill="#999"  d="M326.612 185.391c59.747 59.809 58.927 155.698.36 214.590-.11.120-.24.250-.36.370l-67.200 67.200c-59.270 59.270-155.699 59.262-214.960 0-59.270-59.260-59.270-155.700 0-214.960l37.106-37.106c9.840-9.840 26.786-3.300 27.294 10.606.648 17.722 3.826 35.527 9.690 52.721 1.986 5.822.567 12.262-3.783 16.612l-13.087 13.087c-28.026 28.026-28.905 73.660-1.155 101.960 28.024 28.579 74.086 28.749 102.325.510l67.200-67.190c28.191-28.191 28.073-73.757 0-101.830-3.701-3.694-7.429-6.564-10.341-8.569a16.037 16.037 0 0 1-6.947-12.606c-.396-10.567 3.348-21.456 11.698-29.806l21.054-21.055c5.521-5.521 14.182-6.199 20.584-1.731a152.482 152.482 0 0 1 20.522 17.197zM467.547 44.449c-59.261-59.262-155.690-59.270-214.960 0l-67.200 67.200c-.120.120-.250.250-.360.370-58.566 58.892-59.387 154.781.360 214.590a152.454 152.454 0 0 0 20.521 17.196c6.402 4.468 15.064 3.789 20.584-1.731l21.054-21.055c8.350-8.350 12.094-19.239 11.698-29.806a16.037 16.037 0 0 0-6.947-12.606c-2.912-2.005-6.640-4.875-10.341-8.569-28.073-28.073-28.191-73.639 0-101.830l67.200-67.190c28.239-28.239 74.300-28.069 102.325.510 27.750 28.300 26.872 73.934-1.155 101.960l-13.087 13.087c-4.350 4.350-5.769 10.790-3.783 16.612 5.864 17.194 9.042 34.999 9.690 52.721.509 13.906 17.454 20.446 27.294 10.606l37.106-37.106c59.271-59.259 59.271-155.699.001-214.959z"/></svg>
</div>
<div class="account-tools"><div class="gbtn" style="left:201px;width:170px"></div>
<span class="t" style="left:212.00px;top:867.97px;font-size:18.7px;letter-spacing:0.6px;color:#222;">Account Tools</span>
<svg class="ic" style="left:341.60px;top:863.80px;width:19.60px;height:22.10px" viewBox="0.0 0.0 448.0 512.0" preserveAspectRatio="none"><path fill="#999"  d="M224 256c70.700 0 128-57.300 128-128S294.700 0 224 0 96 57.300 96 128s57.300 128 128 128zm89.600 32h-16.700c-22.200 10.200-46.900 16-72.900 16s-50.600-5.800-72.900-16h-16.700C60.200 288 0 348.200 0 422.400V464c0 26.500 21.500 48 48 48h352c26.500 0 48-21.500 48-48v-41.600c0-74.200-60.200-134.400-134.400-134.400z"/></svg>
</div>
<div class="social">
<svg class="ic" style="left:1532.00px;top:863.00px;width:31.20px;height:25.20px" viewBox="0.0 48.1 512.0 415.8" preserveAspectRatio="none"><path fill="#fff"  d="M459.370 151.716c.325 4.548.325 9.097.325 13.645 0 138.720-105.583 298.558-298.558 298.558-59.452 0-114.680-17.219-161.137-47.106 8.447.974 16.568 1.299 25.340 1.299 49.055 0 94.213-16.568 130.274-44.832-46.132-.975-84.792-31.188-98.112-72.772 6.498.974 12.995 1.624 19.818 1.624 9.421 0 18.843-1.300 27.614-3.573-48.081-9.747-84.143-51.980-84.143-102.985v-1.299c13.969 7.797 30.214 12.670 47.431 13.319-28.264-18.843-46.781-51.005-46.781-87.391 0-19.492 5.197-37.360 14.294-52.954 51.655 63.675 129.300 105.258 216.365 109.807-1.624-7.797-2.599-15.918-2.599-24.040 0-57.828 46.782-104.934 104.934-104.934 30.213 0 57.502 12.670 76.670 33.137 23.715-4.548 46.456-13.320 66.599-25.340-7.798 24.366-24.366 44.833-46.132 57.827 21.117-2.273 41.584-8.122 60.426-16.243-14.292 20.791-32.161 39.308-52.628 54.253z"/></svg>
<svg class="ic" style="left:1597.60px;top:866.70px;width:16.80px;height:16.50px" viewBox="18.8 31.9 474.5 448.1" preserveAspectRatio="none"><path fill="#f4611e"  d="M440.300 203.500c-15 0-28.200 6.200-37.900 15.900-35.700-24.700-83.800-40.600-137.100-42.300L293 52.300l88.200 19.800c0 21.600 17.600 39.200 39.200 39.200 22 0 39.700-18.100 39.700-39.700s-17.600-39.700-39.700-39.700c-15.400 0-28.700 9.300-35.300 22l-97.400-21.600c-4.900-1.300-9.700 2.200-11 7.100L246.300 177c-52.900 2.200-100.500 18.100-136.300 42.800-9.700-10.100-23.400-16.300-38.400-16.300-55.600 0-73.800 74.600-22.900 100.100-1.800 7.900-2.600 16.300-2.600 24.700 0 83.800 94.400 151.700 210.300 151.700 116.400 0 210.800-67.900 210.800-151.700 0-8.400-.9-17.200-3.100-25.100 49.900-25.600 31.500-99.700-23.800-99.700zM129.400 308.900c0-22 17.600-39.700 39.700-39.700 21.600 0 39.200 17.600 39.200 39.700 0 21.600-17.600 39.200-39.200 39.200-22 .1-39.700-17.600-39.700-39.200zm214.300 93.500c-36.400 36.400-139.100 36.400-175.500 0-4-3.500-4-9.700 0-13.700 3.500-3.500 9.700-3.500 13.200 0 27.800 28.500 120 29 149 0 3.500-3.500 9.700-3.500 13.200 0 4.100 4 4.100 10.200.1 13.700zm-.8-54.200c-21.600 0-39.200-17.600-39.200-39.200 0-22 17.600-39.700 39.200-39.700 22 0 39.700 17.600 39.700 39.700-.1 21.500-17.700 39.200-39.700 39.200z"/></svg>
<div style="position:absolute;left:1649px;top:860.15px;width:30.6px;height:30.6px;border-radius:50%;overflow:hidden"><svg class="ic" style="left:9.40px;top:6.95px;width:12.60px;height:24.90px" viewBox="22.9 0.0 274.2 512.0" preserveAspectRatio="none"><path fill="#3f54a0"  d="M279.140 288l14.220-92.660h-88.910v-60.130c0-25.350 12.420-50.060 52.240-50.060h40.420V6.260S260.430 0 225.360 0c-73.220 0-121.080 44.380-121.080 124.720v70.620H22.890V288h81.390v224h100.170V288z"/></svg></div>
<svg class="ic" style="left:1708.60px;top:861.60px;width:27.80px;height:27.80px" viewBox="0.0 32.0 448.0 448.0" preserveAspectRatio="none"><path fill="#fff"  d="M416 32H31.900C14.300 32 0 46.500 0 64.300v383.400C0 465.500 14.300 480 31.900 480H416c17.600 0 32-14.500 32-32.300V64.300c0-17.800-14.400-32.300-32-32.300zM135.400 416H69V202.200h66.500V416zm-33.200-243c-21.300 0-38.500-17.300-38.500-38.500S80.900 96 102.200 96c21.200 0 38.500 17.300 38.500 38.500 0 21.300-17.200 38.500-38.500 38.500zm282.100 243h-66.400V312c0-24.800-.5-56.700-34.500-56.700-34.600 0-39.900 27-39.900 54.900V416h-66.400V202.200h63.700v29.200h.9c8.900-16.800 30.600-34.500 62.900-34.500 67.200 0 79.700 44.300 79.700 101.900V416z"/></svg>
</div>
</footer>
<div id="rborder"></div>
<div id="bborder"></div>
</body>
</html>
